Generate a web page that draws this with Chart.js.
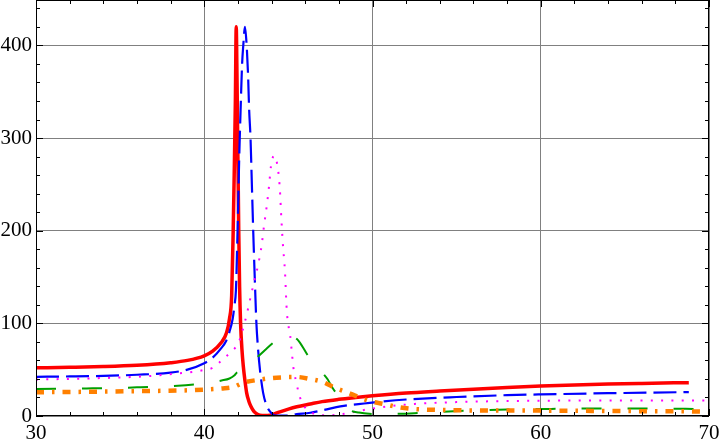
<!DOCTYPE html>
<html>
<head>
<meta charset="utf-8">
<script src="https://cdn.jsdelivr.net/npm/chart.js@4.4.0/dist/chart.umd.min.js"></script>
<style>
  html, body { margin: 0; padding: 0; background: #fff; }
  #wrap { width: 720px; height: 445px; }
</style>
</head>
<body>
<div id="wrap"><canvas id="chart" width="720" height="445"></canvas></div>
<script>
(function () {
  'use strict';

  // tick values
  const X_TICKS = [30, 40, 50, 60, 70];
  const Y_TICKS = [0, 100, 200, 300, 400];

  // series
  const redX = [30, 32, 34, 36, 38, 39, 40, 40.5, 41, 41.33, 41.5, 41.63, 41.72, 41.78, 41.85, 41.9, 41.95, 42.0, 42.05, 42.1, 42.16, 42.24, 42.32, 42.42, 42.52, 42.65, 42.77, 42.95, 43.11, 43.3, 43.6, 43.9, 44.2, 44.5, 45, 45.5, 46.3, 47, 48, 49, 50, 52, 54, 56, 58, 60, 62, 64, 66, 68.8];
  const redY = [52, 52.6, 53.4, 54.8, 57.5, 60, 65, 70, 79, 90, 105, 130, 200, 260, 340, 420, 360, 280, 200, 140, 100, 72, 54, 38, 25, 16, 10.5, 5, 2.5, 1, 0.5, 0.8, 2.5, 4.5, 7.5, 10, 13, 15.5, 18, 20, 21.8, 24.8, 27, 29, 30.8, 32.3, 33.5, 34.5, 35.2, 36];

  const blueX = [30, 32, 34, 36, 38, 39, 40, 40.5, 41, 41.3, 41.5, 41.69, 41.8, 41.88, 41.98, 42.08, 42.16, 42.25, 42.32, 42.42, 42.52, 42.6, 42.67, 42.75, 42.83, 42.91, 43.0, 43.1, 43.2, 43.31, 43.5, 43.74, 44.0, 44.2, 44.8, 45.5, 46.3, 47, 47.6, 48.5, 49.5, 50.5, 52, 55, 58, 60, 64, 68.8];
  const blueY = [42.3, 42.7, 43.3, 44.5, 46.8, 50, 57, 63, 73, 81, 91, 105, 120, 135, 200, 280, 330, 380, 400, 420, 400, 370, 330, 300, 250, 200, 150, 100, 72, 50, 25, 10, 3, 0.5, 0.3, 2, 3.5, 6, 8.5, 11.5, 13.5, 15.5, 17.8, 20.5, 22.5, 23.3, 24.6, 25.8];

  const magentaX = [30, 33, 36, 37, 38.2, 39.3, 39.9, 40.5, 41.03, 41.57, 42.04, 42.22, 42.38, 42.52, 42.64, 42.9, 43.2, 43.41, 43.55, 43.71, 43.85, 43.96, 44.1, 44.2, 44.3, 44.4, 44.5, 44.56, 44.66, 44.8, 44.9, 45.0, 45.1, 45.2, 45.3, 45.45, 45.6, 45.75, 46.0, 46.5, 47, 47.8, 48.5, 49.5, 51, 52.5, 55, 60, 65, 70];
  const magentaY = [39.3, 40.5, 42.3, 43.5, 45.5, 47.6, 49.4, 52, 60, 69, 79, 88.6, 99.5, 109, 119, 140, 163, 184, 205, 226, 248, 269, 280, 281, 275, 264, 243, 221, 189, 155, 115, 98, 88, 70, 52, 38, 26, 17, 9, 2.5, 0.8, 1, 3, 6.5, 10.5, 13, 15, 16.5, 16.7, 16.7];

  const greenX = [30, 33, 36, 38.9, 40.2, 41.03, 41.5, 41.8, 41.92, 42.3, 42.7, 43.21, 43.6, 44.1, 44.5, 44.9, 45.2, 45.49, 45.8, 46.12, 46.6, 47.0, 47.34, 47.6, 47.93, 48.3, 48.7, 49.2, 49.8, 50.5, 51.5, 52.5, 54, 56, 58, 60, 63, 66, 70];
  const greenY = [29.2, 29.8, 30.9, 33.2, 35.5, 38.3, 40.5, 44, 46.6, 53, 59, 64.5, 71, 79, 84, 86, 85.5, 83.3, 76, 66.3, 54, 47, 39.4, 31, 22.4, 13, 6, 3.8, 2.4, 2, 2.3, 3, 4.5, 6, 7, 7.5, 8, 8, 7.5];

  const orangeX = [30, 33, 36, 39.15, 40, 41.03, 41.78, 42.2, 42.52, 43.2, 43.9, 44.7, 45.49, 46.28, 47.07, 47.77, 48.46, 49.15, 49.85, 50.64, 51.43, 52.3, 54, 56, 60, 63, 66, 69, 70];
  const orangeY = [25.7, 26.1, 26.8, 27.8, 28.5, 29.7, 31.5, 35, 36.9, 39, 40.8, 41.8, 42.1, 40, 36.5, 30.4, 25.7, 20.7, 16, 13.1, 10, 7.8, 6.5, 6, 5.8, 5.5, 5.2, 4.9, 4.5];

  const PALETTE = {
    red: '#ff0000',
    blue: '#0000ff',
    magenta: '#ff00ff',
    green: '#00a000',
    orange: '#ff8000',
    grid: '#808080'
  };

  function pairs(xs, ys) {
    return xs.map((x, i) => ({ x: x, y: ys[i] }));
  }

  function series(xs, ys, color, width, dash, order) {
    return {
      data: pairs(xs, ys),
      borderColor: color,
      borderWidth: width,
      borderDash: dash,
      borderCapStyle: 'butt',
      pointRadius: 0,
      cubicInterpolationMode: 'monotone',
      fill: false,
      order: order
    };
  }

  // Mathematica-style frame with inward ticks on all four sides
  const framePlugin = {
    id: 'frame',
    afterDraw(chart) {
      const ctx = chart.ctx;
      const a = chart.chartArea;
      const xs = chart.scales.x;
      const ys = chart.scales.y;
      ctx.save();
      ctx.strokeStyle = '#000';
      ctx.lineWidth = 1;
      ctx.beginPath();
      for (let v = 30; v <= 70; v += 2) {
        const px = Math.round(xs.getPixelForValue(v)) + 0.5;
        const len = v % 10 === 0 ? 7 : 4;
        ctx.moveTo(px, a.bottom); ctx.lineTo(px, a.bottom - len);
        ctx.moveTo(px, a.top); ctx.lineTo(px, a.top + len);
      }
      for (let v = 0; v <= 440; v += 20) {
        const py = Math.round(ys.getPixelForValue(v)) + 0.5;
        const len = v % 100 === 0 ? 7 : 4;
        ctx.moveTo(a.left, py); ctx.lineTo(a.left + len, py);
        ctx.moveTo(a.right, py); ctx.lineTo(a.right - len, py);
      }
      ctx.stroke();
      ctx.strokeRect(Math.round(a.left) + 0.5, Math.round(a.top) + 0.5,
        Math.round(a.right - a.left) - 1, Math.round(a.bottom - a.top) - 1);
      ctx.restore();
    }
  };

  Chart.defaults.font.family = '"Liberation Serif", "Times New Roman", serif';
  Chart.defaults.font.size = 21;
  Chart.defaults.color = '#000';

  new Chart(document.getElementById('chart').getContext('2d'), {
    type: 'line',
    data: {
      datasets: [
        series(redX, redY, PALETTE.red, 3.5, [], 5),
        series(blueX, blueY, PALETTE.blue, 2.2, [23, 7], 4),
        series(magentaX, magentaY, PALETTE.magenta, 2, [2, 8.3], 3),
        series(greenX, greenY, PALETTE.green, 2, [20, 26], 2),
        series(orangeX, orangeY, PALETTE.orange, 4.5, [8, 8, 2.5, 8], 1)
      ]
    },
    options: {
      responsive: false,
      animation: false,
      layout: { padding: 0 },
      plugins: { legend: { display: false }, tooltip: { enabled: false } },
      scales: {
        x: {
          type: 'linear',
          min: 30,
          max: 70,
          afterFit: s => { s.height = 29; s.paddingLeft = 0; s.paddingRight = 11; },
          afterBuildTicks: s => { s.ticks = X_TICKS.map(v => ({ value: v })); },
          grid: { color: PALETTE.grid, lineWidth: 1, drawTicks: false },
          border: { display: false },
          ticks: { padding: 5, maxRotation: 0 }
        },
        y: {
          type: 'linear',
          min: 0,
          max: 449,
          afterFit: s => { s.width = 36; s.paddingTop = 0; s.paddingBottom = 0; },
          afterBuildTicks: s => { s.ticks = Y_TICKS.map(v => ({ value: v })); },
          grid: { color: PALETTE.grid, lineWidth: 1, drawTicks: false },
          border: { display: false },
          ticks: { padding: 4 }
        }
      }
    },
    plugins: [framePlugin]
  });
})();
</script>
</body>
</html>
